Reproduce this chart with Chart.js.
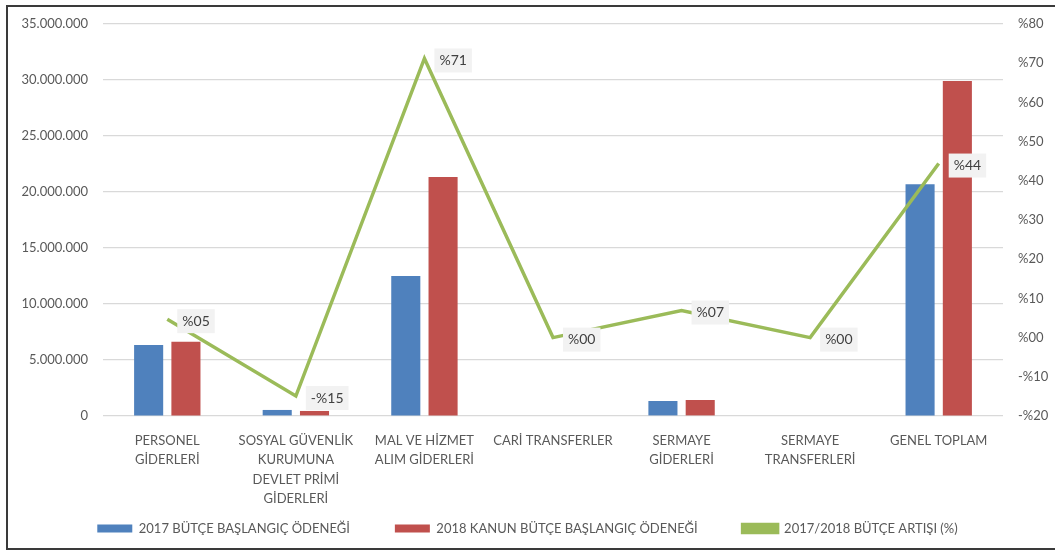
<!DOCTYPE html>
<html lang="tr">
<head>
<meta charset="utf-8">
<title>Bütçe</title>
<script src="https://cdn.jsdelivr.net/npm/chart.js"></script>
<style>
	body{ margin:0; background:#fff; }
	.wrap{ position:relative; width:1055px; height:554px; overflow:hidden; }
	.frame{ position:absolute; left:6px; top:5px; width:1100px; height:545px; border:2px solid #3a3a3a; box-sizing:border-box; }
	#myChart{ position:absolute; left:0; top:0; }
</style>
</head>
<body>
<div class="wrap">
	<div class="frame"></div>
	<canvas id="myChart" width="1055" height="554"></canvas>
</div>
<script>
// kategoriler
const labels = [
	['PERSONEL', 'GİDERLERİ'],
	['SOSYAL GÜVENLİK', 'KURUMUNA', 'DEVLET PRİMİ', 'GİDERLERİ'],
	['MAL VE HİZMET', 'ALIM GİDERLERİ'],
	'CARİ TRANSFERLER',
	['SERMAYE', 'GİDERLERİ'],
	['SERMAYE', 'TRANSFERLERİ'],
	'GENEL TOPLAM'
];

// değerler
const butce2017 = [6340000, 540000, 12500000, 0, 1340000, 0, 20700000];
const butce2018 = [6630000, 450000, 21340000, 0, 1430000, 0, 29900000];
const artis = [4.7, -14.9, 71.2, 0, 6.9, 0, 44.4];

const seriesNames = ['2017 BÜTÇE BAŞLANGIÇ ÖDENEĞİ', '2018 KANUN BÜTÇE BAŞLANGIÇ ÖDENEĞİ', '2017/2018 BÜTÇE ARTIŞI (%)'];

const FONT = 'Lato, "Noto Sans", sans-serif';
const TXT = '#595959';

function binlik(v){
	return String(Math.round(v)).replace(/\B(?=(\d{3})+(?!\d))/g, '.');
}
function yuzde(v){
	const n = Math.round(Math.abs(v));
	const s = (n < 10 ? '0' : '') + n;
	return (Math.round(v) < 0 ? '-%' : '%') + s;
}

// çizgi üzerindeki etiketler
const pointLabels = {
	id: 'pointLabels',
	afterDatasetsDraw(chart){
		const ctx = chart.ctx;
		const meta = chart.getDatasetMeta(2);
		ctx.save();
		ctx.font = '14px ' + FONT;
		ctx.textBaseline = 'middle';
		meta.data.forEach(function(pt, i){
			const txt = yuzde(artis[i]);
			const w = ctx.measureText(txt).width + 10;
			const h = 24;
			const x = pt.x + 10;
			const y = pt.y + 2;
			ctx.fillStyle = '#f2f2f2';
			ctx.fillRect(x, y - h / 2, w, h);
			ctx.fillStyle = '#404040';
			ctx.fillText(txt, x + 5, y);
		});
		ctx.restore();
	}
};

const chart_data = {
	labels: labels,
	datasets: [{
		type: 'bar',
		label: seriesNames[0],
		data: butce2017,
		backgroundColor: '#4F81BD',
		yAxisID: 'y',
		order: 1,
		categoryPercentage: 0.58,
		barPercentage: 0.78
	}, {
		type: 'bar',
		label: seriesNames[1],
		data: butce2018,
		backgroundColor: '#C0504D',
		yAxisID: 'y',
		order: 1,
		categoryPercentage: 0.58,
		barPercentage: 0.78
	}, {
		type: 'line',
		label: seriesNames[2],
		data: artis,
		borderColor: '#9BBB59',
		backgroundColor: '#9BBB59',
		borderWidth: 3.5,
		pointRadius: 0,
		tension: 0,
		yAxisID: 'y1',
		order: 0
	}]
};

const config = {
	type: 'bar',
	data: chart_data,
	options: {
		responsive: false,
		devicePixelRatio: 1,
		animation: false,
		layout: { padding: { top: 24, left: 0, right: 0, bottom: 9 } },
		plugins: {
			tooltip: { enabled: false },
			legend: {
				position: 'bottom',
				labels: {
					font: { family: FONT, size: 13 },
					color: TXT,
					boxWidth: 35,
					boxHeight: 8,
					padding: 45,
					sort: function(a, b){ return a.datasetIndex - b.datasetIndex; }
				}
			}
		},
		scales: {
			x: {
				grid: { display: false },
				border: { display: false },
				ticks: {
					font: { family: FONT, size: 13, lineHeight: 1.5 },
					color: TXT,
					padding: 7,
					maxRotation: 0,
					autoSkip: false
				},
				afterFit(scale){
					scale.height = 61;
					// etiketler kırpılmasın
					scale._computeLabelArea = function(){ return undefined; };
				}
			},
			y: {
				position: 'left',
				min: 0,
				max: 35000000,
				grid: { color: '#d9d9d9', lineWidth: 1.2, drawTicks: false },
				border: { display: false },
				ticks: {
					stepSize: 5000000,
					font: { family: FONT, size: 13 },
					color: TXT,
					padding: 15,
					callback: function(v){ return binlik(v); }
				},
				afterFit(scale){ scale.width = 103; }
			},
			y1: {
				position: 'right',
				min: -20,
				max: 80,
				grid: { display: false, drawTicks: false },
				border: { display: false },
				ticks: {
					stepSize: 10,
					font: { family: FONT, size: 13 },
					color: TXT,
					padding: 15,
					callback: function(v){ return yuzde(v); }
				},
				afterFit(scale){ scale.width = 52; }
			}
		}
	},
	plugins: [pointLabels]
};

const myChart = new Chart(document.getElementById('myChart'), config);
</script>
</body>
</html>
